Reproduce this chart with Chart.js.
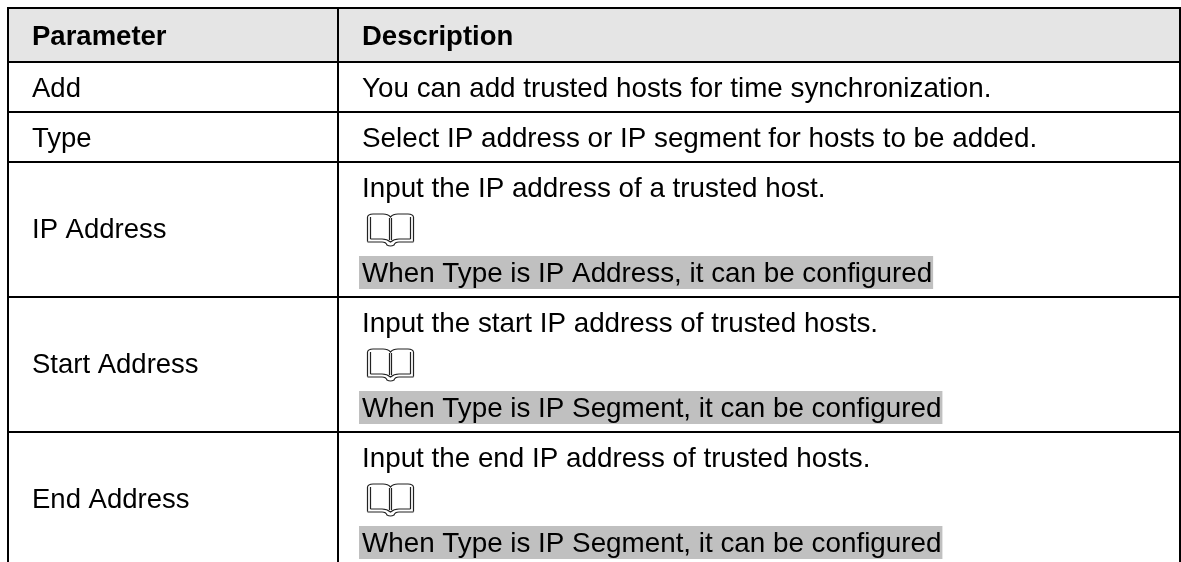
<!DOCTYPE html>
<html>
<head>
<meta charset="utf-8">
<script src="https://cdn.jsdelivr.net/npm/chart.js@4"></script>
<style>
  html, body { margin: 0; padding: 0; background: #fff; }
  #chartContainer { display: block; }
</style>
</head>
<body>
<canvas id="chartContainer" width="1181" height="562"></canvas>
<script>
"use strict";

// 1: data
let columnLabels = ['Parameter', 'Description'];
let parameterNames = ['Add', 'Type', 'IP Address', 'Start Address', 'End Address'];
let descriptions = [
  'You can add trusted hosts for time synchronization.',
  'Select IP address or IP segment for hosts to be added.',
  'Input the IP address of a trusted host.',
  'Input the start IP address of trusted hosts.',
  'Input the end IP address of trusted hosts.'
];
let notes = [
  null,
  null,
  'When Type is IP Address, it can be configured',
  'When Type is IP Segment, it can be configured',
  'When Type is IP Segment, it can be configured'
];

// table rules, in page units: the axes run 1:1 with the picture
let columnEdges = [8, 338, 1180];
let rowEdges = [8, 62, 112, 162, 297, 432];

const FONT = '"Liberation Sans", Arial, sans-serif';

// 2: book icon next to each note
function drawBook(ctx, x, y) {
  ctx.save();
  ctx.translate(x, y);
  ctx.strokeStyle = '#222';
  ctx.lineWidth = 1.2;
  ctx.beginPath();
  // outer edge of the pages
  ctx.moveTo(0.5, 28.5);
  ctx.lineTo(0.5, 4);
  ctx.quadraticCurveTo(1, 1, 6, 1);
  ctx.lineTo(16, 1);
  ctx.quadraticCurveTo(21, 1, 23.5, 4);
  ctx.quadraticCurveTo(26, 1, 31, 1);
  ctx.lineTo(41, 1);
  ctx.quadraticCurveTo(46, 1, 46.5, 4);
  ctx.lineTo(46.5, 28.5);
  // inner edge of the pages
  ctx.moveTo(3.5, 26);
  ctx.lineTo(3.5, 4);
  ctx.moveTo(43.5, 26);
  ctx.lineTo(43.5, 4);
  // spine
  ctx.moveTo(22.5, 5);
  ctx.lineTo(22.5, 27);
  ctx.moveTo(24.5, 5);
  ctx.lineTo(24.5, 27);
  // cover
  ctx.moveTo(0.5, 29);
  ctx.lineTo(15, 29);
  ctx.quadraticCurveTo(19, 29, 20, 32);
  ctx.quadraticCurveTo(23.5, 34, 27, 32);
  ctx.quadraticCurveTo(28, 29, 32, 29);
  ctx.lineTo(46.5, 29);
  ctx.moveTo(3.5, 26);
  ctx.lineTo(15, 26);
  ctx.quadraticCurveTo(20, 26, 23.5, 29);
  ctx.quadraticCurveTo(27, 26, 32, 26);
  ctx.lineTo(43.5, 26);
  ctx.stroke();
  ctx.restore();
}

// 3: cell contents, placed through the chart's scales
const tableCells = {
  id: 'tableCells',
  beforeDraw(chart) {
    let ctx = chart.ctx;
    let x = chart.scales.x;
    let y = chart.scales.y;
    ctx.save();
    ctx.fillStyle = '#e5e5e5';
    ctx.fillRect(x.getPixelForValue(columnEdges[0]), y.getPixelForValue(rowEdges[0]),
      x.getPixelForValue(columnEdges[2]) - x.getPixelForValue(columnEdges[0]),
      y.getPixelForValue(rowEdges[1]) - y.getPixelForValue(rowEdges[0]));
    ctx.restore();
  },
  afterDraw(chart) {
    let ctx = chart.ctx;
    let x = chart.scales.x;
    let y = chart.scales.y;
    let leftText = x.getPixelForValue(columnEdges[0]) + 24;
    let rightText = x.getPixelForValue(columnEdges[1]) + 24;

    ctx.save();
    ctx.textBaseline = 'alphabetic';
    ctx.textAlign = 'left';
    ctx.fillStyle = '#000';

    ctx.font = 'bold 27.5px ' + FONT;
    ctx.fillText(columnLabels[0], leftText, y.getPixelForValue(rowEdges[0]) + 37);
    ctx.fillText(columnLabels[1], rightText, y.getPixelForValue(rowEdges[0]) + 37);

    parameterNames.forEach(function (name, i) {
      let top = y.getPixelForValue(rowEdges[i + 1]);
      let hasNote = notes[i] !== null;
      ctx.font = '27.5px ' + FONT;
      ctx.fillText(name, leftText, hasNote ? top + 76 : top + 35);
      ctx.font = '27.8px ' + FONT;
      ctx.fillText(descriptions[i], rightText, top + 35);
      if (hasNote) {
        drawBook(ctx, rightText + 5, top + 51);
        let w = ctx.measureText(notes[i]).width;
        ctx.fillStyle = '#c0c0c0';
        ctx.fillRect(rightText - 3, top + 94, w + 4, 33);
        ctx.fillStyle = '#000';
        ctx.fillText(notes[i], rightText, top + 120);
      }
    });
    ctx.restore();
  }
};

// 4: create and append the chart
function appendChart() {
  let chartContainer = document.getElementById('chartContainer');
  new Chart(chartContainer, {
    type: 'scatter',
    data: { datasets: [] },
    plugins: [tableCells],
    options: {
      responsive: false,
      animation: false,
      layout: { padding: { left: 7, top: 7, right: 0, bottom: 0 } },
      plugins: { legend: { display: false }, tooltip: { enabled: false } },
      scales: {
        x: {
          type: 'linear',
          min: 7,
          max: 1181,
          afterBuildTicks(axis) { axis.ticks = columnEdges.map(v => ({ value: v })); },
          ticks: { display: false },
          border: { display: false },
          grid: { color: '#000', lineWidth: 2, drawTicks: false }
        },
        y: {
          type: 'linear',
          reverse: true,
          min: 7,
          max: 562,
          afterBuildTicks(axis) { axis.ticks = rowEdges.map(v => ({ value: v })); },
          ticks: { display: false },
          border: { display: false },
          grid: { color: '#000', lineWidth: 2, drawTicks: false }
        }
      }
    }
  });
}

appendChart();
</script>
</body>
</html>
